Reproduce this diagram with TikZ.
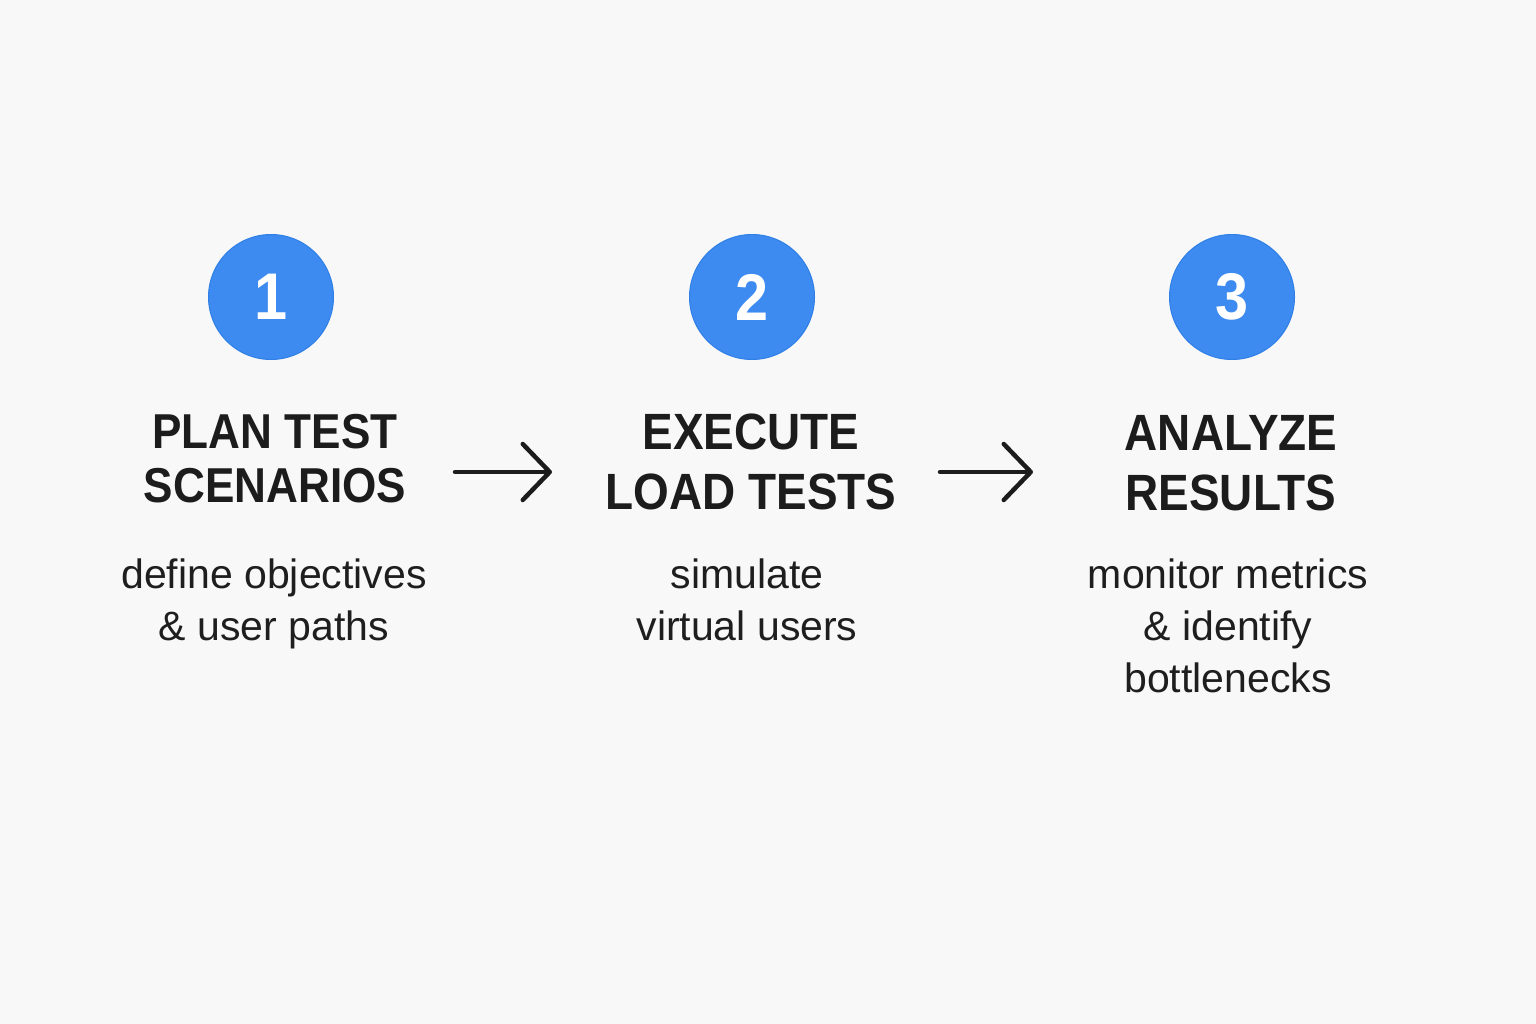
\documentclass[tikz,border=0pt]{standalone}
\usepackage{fontspec}
\setmainfont{Liberation Sans}
\newfontfamily\headfont[FakeStretch=0.9]{Liberation Sans}
\usetikzlibrary{arrows.meta}
\definecolor{bgc}{HTML}{F8F8F8}
\definecolor{stepblue}{HTML}{3D8BF0}
\definecolor{stepedge}{HTML}{2F7FE6}
\definecolor{inkc}{HTML}{1C1C1C}
\definecolor{bodyc}{HTML}{1E1E1E}
\tikzset{
  stepcircle/.style={circle, fill=stepblue, draw=stepedge, line width=1pt, minimum size=125pt, inner sep=0pt,
    text=white, font=\headfont\bfseries\fontsize{66}{66}\selectfont},
  headsmall/.style={anchor=base, align=center, text=inkc, inner sep=0pt,
    font=\headfont\bfseries\fontsize{49}{54}\selectfont},
  headbig/.style={anchor=base, align=center, text=inkc, inner sep=0pt,
    font=\headfont\bfseries\fontsize{51}{60}\selectfont},
  bodytext/.style={anchor=base, align=center, text=bodyc, inner sep=0pt,
    font=\fontsize{41}{52}\selectfont},
  flowarrow/.style={draw=inkc, line width=4.5pt, line cap=round, line join=round,
    -{Straight Barb[length=27pt, width=56pt, line cap=round, line join=round]}}
}
\begin{document}
\begin{tikzpicture}[x=1pt, y=-1pt]
\fill[bgc] (0,0) rectangle (1536,1024);
\useasboundingbox (0,0) rectangle (1536,1024);

\node[stepcircle] (c1) at (271,297) {1};
\node[stepcircle] (c2) at (752,297) {2};
\node[stepcircle] (c3) at (1232,297) {3};

% base anchor = baseline of the last line
\node[headsmall] (h1) at (275,502) {PLAN TEST\\SCENARIOS};
\node[headbig] (h2) at (751,509) {EXECUTE\\LOAD TESTS};
\node[headbig] (h3) at (1231,510) {ANALYZE\\RESULTS};

\node[bodytext] (b1) at (274,640) {define objectives\\\& user paths};
\node[bodytext] (b2) at (747,640) {simulate\\virtual users};
\node[bodytext] (b3) at (1228,692) {monitor metrics\\\& identify\\bottlenecks};

\coordinate (a1s) at (455,472);
\coordinate (a1e) at (552,472);
\coordinate (a2s) at (940,472);
\coordinate (a2e) at (1033,472);
\draw[flowarrow] (a1s) -- (a1e);
\draw[flowarrow] (a2s) -- (a2e);
\end{tikzpicture}
\end{document}
